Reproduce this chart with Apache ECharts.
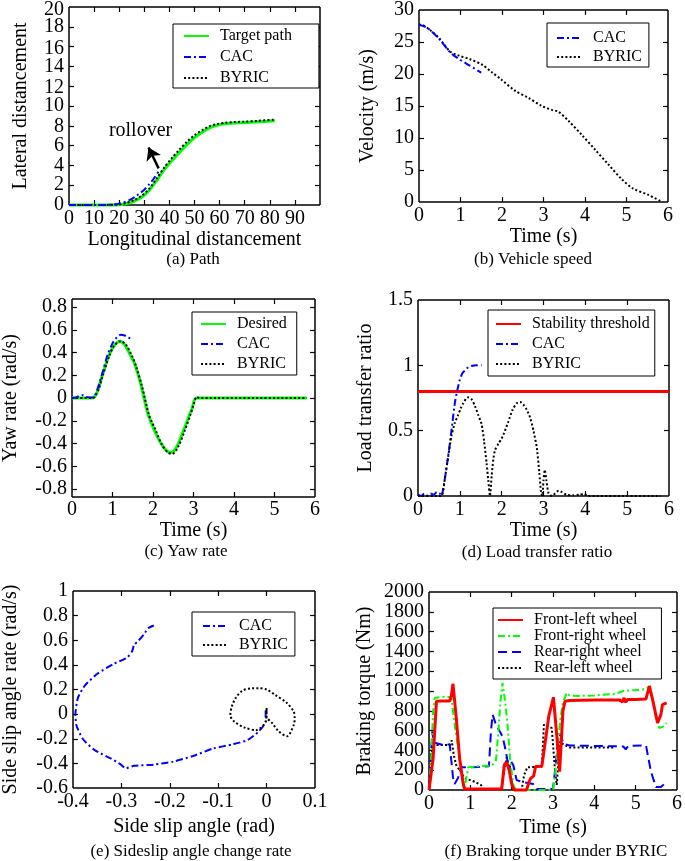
<!DOCTYPE html>
<html><head><meta charset="utf-8">
<script src="https://cdn.jsdelivr.net/npm/echarts@6/dist/echarts.min.js"></script>
<style>html,body{margin:0;padding:0;background:#fff}#c{width:685px;height:861px}</style>
</head><body><div id="c"></div>
<script>
// ---------------- DATA ----------------
// (a) Path  [longitudinal, lateral]
const pathTarget = [[0,0],[10,0],[15,0],[20,0.03],[23,0.15],[26,0.4],[29,0.8],[32,1.5],[35,2.5],[38,3.6],[41,4.5],[44,5.3],[47,6.1],[50,6.8],[53,7.35],[56,7.8],[59,8.05],[62,8.2],[66,8.28],[70,8.32],[75,8.4],[82,8.5]];
const pathCAC = [[0,0],[10,0],[15,0.01],[18,0.05],[21,0.2],[24,0.5],[27,0.95],[30,1.55],[32,2.1],[34,2.75],[36,3.5]];
const pathBYRIC = [[0,0],[10,0],[15,0.01],[20,0.06],[23,0.22],[26,0.5],[29,0.95],[32,1.65],[35,2.7],[38,3.8],[41,4.75],[44,5.6],[47,6.4],[50,7.05],[53,7.55],[56,7.95],[59,8.18],[62,8.3],[66,8.38],[70,8.42],[75,8.5],[82,8.62]];
const rolloverArrow = [[35.7,3.7],[31.7,5.8]];
const rolloverLabelPos = [28.5,7.5];

// (b) Vehicle speed [t, m/s]
const speedCAC = [[0,27.7],[0.2,27.2],[0.47,25.6],[0.75,23.4],[0.95,22.4],[1.2,21.4],[1.5,20.2]];
const speedBYRIC = [[0,27.7],[0.05,27.7],[0.22,27.1],[0.47,25.7],[0.75,23.5],[0.95,22.9],[1.23,22.3],[1.51,21.5],[1.75,20.3],[1.99,19.1],[2.31,17.4],[2.63,16.3],[2.96,15.0],[3.2,14.4],[3.36,14.1],[3.6,12.7],[3.92,10.5],[4.24,8.2],[4.56,5.9],[4.88,3.6],[5.16,2.1],[5.53,1.1],[5.85,0.05]];

// (c) Yaw rate [t, rad/s]
const yawDesired = [[0,0],[0.5,0],[0.56,0.01],[0.65,0.08],[0.75,0.2],[0.9,0.36],[1.02,0.45],[1.18,0.5],[1.3,0.47],[1.45,0.37],[1.55,0.3],[1.7,0.12],[1.87,-0.13],[2.03,-0.28],[2.2,-0.4],[2.35,-0.47],[2.45,-0.48],[2.6,-0.42],[2.76,-0.28],[2.9,-0.15],[2.96,-0.1],[3.08,0],[5.8,0]];
const yawCAC = [[0,0],[0.1,0.005],[0.2,0.02],[0.27,0.025],[0.35,0.01],[0.5,0.005],[0.56,0.02],[0.65,0.1],[0.75,0.22],[0.88,0.38],[1.0,0.48],[1.1,0.53],[1.2,0.555],[1.3,0.55],[1.4,0.53],[1.52,0.52]];
const yawBYRIC = [[0,0],[0.5,0],[0.56,0.01],[0.66,0.08],[0.76,0.2],[0.92,0.37],[1.04,0.46],[1.2,0.5],[1.33,0.47],[1.48,0.37],[1.58,0.28],[1.73,0.1],[1.9,-0.15],[1.97,-0.21],[2.05,-0.27],[2.22,-0.41],[2.37,-0.48],[2.48,-0.49],[2.62,-0.43],[2.78,-0.29],[2.92,-0.15],[3.0,-0.06],[3.08,0.01],[3.15,0],[5.8,0]];

// (d) Load transfer ratio [t, LTR]
const ltrThreshold = [[0,0.8],[6,0.8]];
const ltrCAC = [[0,0.01],[0.08,0.0],[0.15,0.02],[0.22,0.005],[0.3,0.02],[0.38,0.01],[0.45,0.03],[0.52,0.02],[0.56,0.0],[0.64,0.13],[0.72,0.3],[0.8,0.5],[0.88,0.71],[0.94,0.81],[1.0,0.89],[1.06,0.94],[1.12,0.96],[1.2,0.985],[1.28,0.995],[1.4,1.0],[1.52,1.0]];
const ltrBYRIC = [[0,0],[0.55,0],[0.64,0.13],[0.72,0.3],[0.8,0.46],[0.88,0.56],[0.96,0.62],[1.02,0.67],[1.08,0.71],[1.15,0.745],[1.2,0.755],[1.28,0.74],[1.36,0.69],[1.44,0.62],[1.52,0.55],[1.58,0.42],[1.64,0.25],[1.68,0.12],[1.72,0.0],[1.76,0.15],[1.8,0.28],[1.84,0.35],[1.92,0.4],[2.0,0.44],[2.08,0.5],[2.16,0.57],[2.26,0.66],[2.36,0.71],[2.44,0.72],[2.52,0.7],[2.6,0.66],[2.68,0.6],[2.76,0.5],[2.84,0.37],[2.9,0.18],[2.94,0.03],[2.97,0.0],[3.0,0.12],[3.03,0.2],[3.07,0.12],[3.12,0.02],[3.2,0.0],[3.28,0.02],[3.36,0.04],[3.44,0.03],[3.55,0.01],[3.7,0.005],[3.85,0.01],[3.98,0.015],[4.05,0.0],[5.8,0]];

// (e) Sideslip phase plane [beta, beta-rate]
const slipCAC = [[-0.002,0.03],[-0.002,-0.06],[-0.016,-0.14],[-0.039,-0.21],[-0.07,-0.245],[-0.111,-0.28],[-0.152,-0.34],[-0.192,-0.385],[-0.233,-0.41],[-0.274,-0.42],[-0.291,-0.44],[-0.301,-0.41],[-0.322,-0.36],[-0.356,-0.29],[-0.38,-0.2],[-0.393,-0.09],[-0.395,0.0],[-0.39,0.13],[-0.376,0.23],[-0.349,0.33],[-0.315,0.41],[-0.288,0.46],[-0.278,0.51],[-0.274,0.56],[-0.264,0.6],[-0.254,0.645],[-0.244,0.7],[-0.233,0.72]];
const slipBYRIC = [[0,0.05],[-0.001,-0.05],[-0.022,-0.13],[-0.045,-0.11],[-0.067,-0.06],[-0.075,-0.01],[-0.072,0.06],[-0.064,0.13],[-0.05,0.19],[-0.03,0.21],[-0.016,0.21],[0.0,0.2],[0.018,0.155],[0.042,0.09],[0.056,0.02],[0.058,-0.03],[0.056,-0.09],[0.042,-0.18],[0.025,-0.14],[0.012,-0.075],[0.0,-0.02],[0.0,0.04],[-0.001,0]];

// (f) Braking torque under BYRIC [t, Nm]
const tqFrontLeft = [[0,0],[0.02,0],[0.1,320],[0.18,896],[0.3,900],[0.5,900],[0.54,950],[0.58,1073],[0.62,900],[0.66,728],[0.74,322],[0.82,84],[0.86,10],[1.2,10],[1.5,10],[1.76,10],[1.82,254],[1.88,280],[1.94,200],[2.0,60],[2.06,0],[2.36,0],[2.42,80],[2.46,119],[2.53,140],[2.58,237],[2.73,240],[2.8,450],[2.9,750],[3.01,937],[3.09,558],[3.16,186],[3.24,795],[3.29,896],[3.4,905],[4.0,910],[4.6,910],[4.68,890],[4.72,930],[4.76,885],[4.8,915],[5.0,915],[5.25,920],[5.33,1050],[5.41,913],[5.53,677],[5.61,761],[5.65,863],[5.75,880]];
const tqFrontRight = [[0,0],[0.05,300],[0.1,800],[0.14,930],[0.3,940],[0.54,940],[0.62,660],[0.74,322],[0.82,50],[0.86,0],[0.9,120],[0.95,230],[1.2,240],[1.45,245],[1.55,260],[1.62,300],[1.68,600],[1.73,900],[1.78,1083],[1.84,900],[1.9,660],[1.96,322],[2.04,50],[2.1,0],[3.0,0],[3.09,300],[3.17,700],[3.24,880],[3.33,981],[3.4,955],[3.6,950],[4.0,955],[4.5,970],[4.7,1000],[5.0,1010],[5.25,1020],[5.35,1050],[5.49,728],[5.57,626],[5.66,640],[5.75,677]];
const tqRearRight = [[0,0],[0.04,300],[0.08,592],[0.11,480],[0.14,470],[0.3,460],[0.5,460],[0.54,300],[0.58,130],[0.62,60],[0.7,120],[0.78,230],[1.0,230],[1.2,232],[1.45,240],[1.5,600],[1.54,761],[1.62,660],[1.7,600],[1.78,541],[1.86,390],[1.94,190],[1.98,290],[2.04,250],[2.12,100],[2.28,80],[2.52,60],[2.6,10],[3.0,10],[3.05,200],[3.12,490],[3.18,560],[3.25,470],[3.4,450],[4.0,445],[4.7,440],[4.76,410],[4.82,445],[5.25,450],[5.37,186],[5.49,30],[5.61,30],[5.75,80]];
const tqRearLeft = [[0,0],[0.05,300],[0.1,470],[0.2,455],[0.5,455],[0.55,500],[0.6,350],[0.66,250],[0.74,200],[0.86,120],[1.1,84],[1.26,50],[1.3,10],[1.75,10],[1.82,200],[1.88,330],[1.95,200],[2.04,0],[2.24,0],[2.3,150],[2.38,230],[2.73,235],[2.78,660],[2.97,626],[3.05,190],[3.09,50],[3.17,490],[3.25,460],[3.4,430],[4.0,430],[4.49,430]];

const captions = ['(a) Path','(b) Vehicle speed','(c) Yaw rate','(d) Load transfer ratio','(e) Sideslip angle change rate','(f) Braking torque under BYRIC'];

// ---------------- STYLE / LAYOUT ----------------
const FONT = "'Liberation Serif','Times New Roman',serif";
const GREEN = '#00ff00', BLUE = '#0000ff', RED = '#ff0000', BLACK = '#000000';
const DASHDOT = [7,3,2,3], DOT = [2,2.2], DASH = [9,5];

const grids = [
  {left:69, top:7, width:251, height:198},
  {left:419, top:5, width:249, height:197},
  {left:68, top:307, width:247, height:182},
  {left:418, top:300, width:251, height:196},
  {left:70, top:591, width:245, height:197},
  {left:429, top:592, width:251, height:198}
];

const xCfg = [
  {min:0,max:100,interval:10,name:'Longitudinal distancement',gap:24,margin:4,fmt:v=>v===100?'':String(v)},
  {min:0,max:6,interval:1,name:'Time (s)',gap:25,margin:4},
  {min:0,max:6,interval:1,name:'Time (s)',gap:28,margin:11},
  {min:0,max:6,interval:1,name:'Time (s)',gap:24,margin:4},
  {min:-0.4,max:0.1,interval:0.1,name:'Side slip angle (rad)',gap:29,margin:4},
  {min:0,max:6,interval:1,name:'Time (s)',gap:28,margin:4}
];
// frameMin/frameMax: extent of the drawn box (panel c's box reaches a little past ±0.8)
const yCfg = [
  {min:0,max:20,interval:2,name:'Lateral distancement',gap:38,split:true},
  {min:0,max:30,interval:5,name:'Velocity (m/s)',gap:41},
  {min:-0.8,max:0.8,interval:0.2,name:'Yaw rate (rad/s)',gap:51,frameMin:-0.87,frameMax:0.87},
  {min:0,max:1.5,interval:0.5,name:'Load transfer ratio',gap:42},
  {min:-0.6,max:1,interval:0.2,name:'Side slip angle rate (rad/s)',gap:52},
  {min:0,max:2000,interval:200,name:'Braking torque (Nm)',gap:54,split:true}
];
const captionPos = [[193,251],[533,251],[186,543],[537,544],[191,843],[556,843]];

const fmtNum = v => String(Math.round(v*1000)/1000);
const lblStyle = {fontFamily:FONT, fontSize:20, color:'#000'};
const allGrids = grids.map(g=>Object.assign({show:false}, g));
const xAxes = [], yAxes = [];
grids.forEach((g,i)=>{
  const xc = xCfg[i], yc = yCfg[i];
  xAxes.push({type:'value', gridIndex:i, position:'bottom', min:xc.min, max:xc.max, interval:xc.interval,
    splitLine:{show:false}, axisLine:{show:false}, axisTick:{show:false},
    name:xc.name, nameLocation:'middle', nameGap:xc.gap,
    nameTextStyle:{fontFamily:FONT, fontSize:20, color:'#000'},
    axisLabel:Object.assign({show:true, margin:xc.margin, showMinLabel:true, showMaxLabel:true, formatter: xc.fmt || fmtNum}, lblStyle)});
  const ax = {type:'value', gridIndex:i, position:'left', min:yc.min, max:yc.max, interval:yc.interval,
    splitLine:{show:false}, axisLine:{show:false}, axisTick:{show:false},
    name:yc.name, nameLocation:'middle', nameGap:yc.gap,
    nameTextStyle:{fontFamily:FONT, fontSize:20, color:'#000'},
    axisLabel:Object.assign({show:true, margin:5, showMinLabel:true, showMaxLabel:true, formatter: fmtNum}, lblStyle)};
  if (yc.split) {
    const step = yc.interval;
    ax.axisLabel.showMinLabel = false; ax.axisLabel.showMaxLabel = false;
    ax.axisLabel.formatter = v => (Math.round(v/step) % 2 === 1) ? fmtNum(v) : '';
  }
  yAxes.push(ax);
});
grids.forEach((g,i)=>{
  const yc = yCfg[i];
  if (!yc.split) return;
  const gi = allGrids.length;
  allGrids.push(Object.assign({show:false}, g));
  xAxes.push({type:'value', gridIndex:gi, min:xCfg[i].min, max:xCfg[i].max, show:false});
  yAxes.push({type:'value', gridIndex:gi, position:'left', min:yc.min, max:yc.max, interval:yc.interval*2,
    splitLine:{show:false}, axisLine:{show:false}, axisTick:{show:false},
    axisLabel:Object.assign({show:true, margin:5, showMinLabel:true, showMaxLabel:true, formatter: fmtNum}, lblStyle)});
});

function line(name, panel, data, color, width, dash, smooth){
  return {name, type:'line', xAxisIndex:panel, yAxisIndex:panel, data, symbol:'none', showSymbol:false,
    smooth: smooth || false, animation:false, silent:true, clip:false,
    lineStyle:{color, width, type:dash || 'solid'}, itemStyle:{color}};
}

const series = [
  line('Target path',0,pathTarget,GREEN,3,null,0.3),
  line('BYRIC',0,pathBYRIC,BLACK,2,DOT,0.3),
  Object.assign(line('CAC',0,pathCAC,BLUE,2,DASHDOT,0.3),{
    markLine:{silent:true, animation:false, symbol:['none','arrow'], symbolSize:12,
      lineStyle:{color:'#000', width:2.5, type:'solid'}, label:{show:false},
      data:[[{coord:rolloverArrow[0]},{coord:rolloverArrow[1]}]]},
    markPoint:{silent:true, animation:false, symbol:'rect', symbolSize:1, itemStyle:{color:'rgba(0,0,0,0)'},
      label:{show:true, position:'inside', formatter:'rollover', fontFamily:FONT, fontSize:20, color:'#000'},
      data:[{coord:rolloverLabelPos}]}
  }),
  line('BYRIC',1,speedBYRIC,BLACK,2,DOT,0.3),
  line('CAC',1,speedCAC,BLUE,2,DASHDOT,0.3),
  line('Desired',2,yawDesired,GREEN,3,null,0.3),
  line('BYRIC',2,yawBYRIC,BLACK,2,DOT,0.3),
  line('CAC',2,yawCAC,BLUE,2,DASHDOT,0.3),
  line('Stability threshold',3,ltrThreshold,RED,3),
  line('CAC',3,ltrCAC,BLUE,2,DASHDOT,0.2),
  line('BYRIC',3,ltrBYRIC,BLACK,2,DOT,0.2),
  line('CAC',4,slipCAC,BLUE,2,DASHDOT,0.2),
  line('BYRIC',4,slipBYRIC,BLACK,2,DOT,0.3),
  line('Rear-left wheel',5,tqRearLeft,BLACK,2,DOT),
  line('Rear-right wheel',5,tqRearRight,BLUE,2,DASH),
  line('Front-right wheel',5,tqFrontRight,GREEN,2,DASHDOT),
  line('Front-left wheel',5,tqFrontLeft,RED,3)
];

// MATLAB-style axes frame (box + inward ticks on all sides), drawn through each panel's own axes
const TICK_PX = 5;
grids.forEach((g,i)=>{
  const xc = xCfg[i], yc = yCfg[i];
  const xl = xc.min, xr = xc.max;
  const yb = yc.frameMin != null ? yc.frameMin : yc.min;
  const yt = yc.frameMax != null ? yc.frameMax : yc.max;
  const dx = TICK_PX * (xc.max - xc.min) / g.width;
  const dy = TICK_PX * (yc.max - yc.min) / g.height;
  const box = {lineStyle:{width:1.5}};
  const tick = {lineStyle:{width:1.2}};
  const segs = [
    Object.assign({coords:[[xl,yb],[xr,yb]]}, box),
    Object.assign({coords:[[xr,yb],[xr,yt]]}, box),
    Object.assign({coords:[[xr,yt],[xl,yt]]}, box),
    Object.assign({coords:[[xl,yt],[xl,yb]]}, box)
  ];
  const nx = Math.round((xc.max - xc.min)/xc.interval), ny = Math.round((yc.max - yc.min)/yc.interval);
  for (let k = 1; k < nx; k++) {
    const v = xc.min + k*xc.interval;
    segs.push(Object.assign({coords:[[v,yb],[v,yb+dy]]}, tick));
    segs.push(Object.assign({coords:[[v,yt],[v,yt-dy]]}, tick));
  }
  for (let k = 0; k <= ny; k++) {
    const v = yc.min + k*yc.interval;
    if (v <= yb || v >= yt) continue;
    segs.push(Object.assign({coords:[[xl,v],[xl+dx,v]]}, tick));
    segs.push(Object.assign({coords:[[xr,v],[xr-dx,v]]}, tick));
  }
  series.push({type:'lines', coordinateSystem:'cartesian2d', xAxisIndex:i, yAxisIndex:i,
    silent:true, animation:false, clip:false, z:3, polyline:false,
    lineStyle:{color:'#000', width:1.2, opacity:1, curveness:0},
    data:segs});
});

function legend(data, left, top, padding, itemGap){
  return {data, left, top, orient:'vertical', align:'left', itemWidth:25, itemHeight:12, itemGap,
    padding, borderColor:'#000', borderWidth:1, backgroundColor:'#fff', selectedMode:false, z:10,
    itemStyle:{opacity:0, borderWidth:0},
    textStyle:{fontFamily:FONT, fontSize:16, color:'#000', lineHeight:16, padding:[0,0,0,6]}};
}
const legends = [
  legend(['Target path','CAC','BYRIC'],173,24,[4,27,2,10],5),
  legend(['CAC','BYRIC'],547,23,[7,7,2,9],3),
  legend(['Desired','CAC','BYRIC'],192,312,[4,10,3,8],4),
  legend(['Stability threshold','CAC','BYRIC'],488,310,[6,5,4,7],4),
  legend(['CAC','BYRIC'],192,612,[6,7,3,10],3),
  legend(['Front-left wheel','Front-right wheel','Rear-right wheel','Rear-left wheel'],493,608,[4,15,3,4],0)
];

const titles = captions.map((t,i)=>({text:t, left:captionPos[i][0], top:captionPos[i][1], textAlign:'center', padding:0,
  textStyle:{fontFamily:FONT, fontSize:17, fontWeight:'normal', color:'#000'}}));

const chart = echarts.init(document.getElementById('c'), null, {renderer:'canvas'});
chart.setOption({
  animation:false,
  title: titles,
  grid: allGrids,
  xAxis: xAxes, yAxis: yAxes,
  legend: legends,
  series
});
</script></body></html>
